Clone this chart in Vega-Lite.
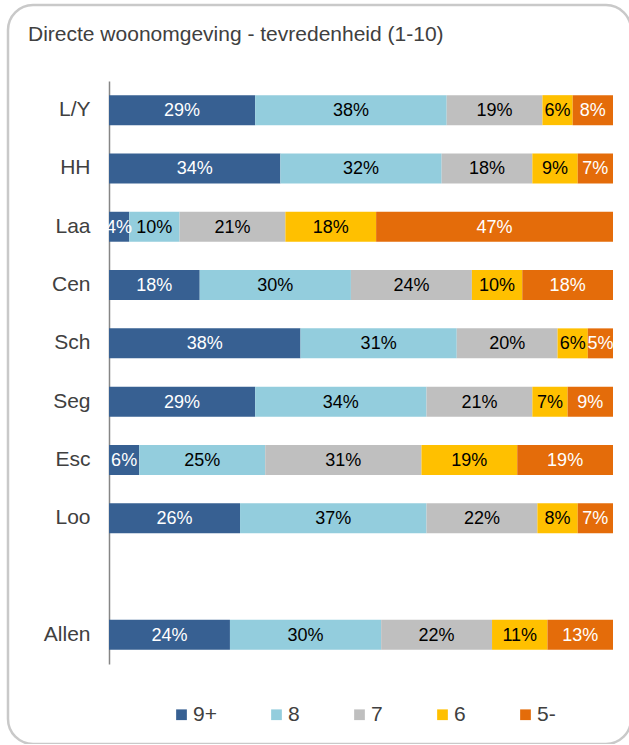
{
  "$schema": "https://vega.github.io/schema/vega-lite/v6.json",
  "width": 623,
  "height": 739,
  "autosize": {"type": "none"},
  "padding": {"left": 8, "top": 5, "right": -2, "bottom": 0},
  "background": "white",
  "config": {
    "font": "Liberation Sans",
    "view": {"stroke": "#C9C9C9", "strokeWidth": 2.5, "cornerRadius": 25}
  },
  "title": {
    "text": "Directe woonomgeving - tevredenheid (1-10)",
    "anchor": "start",
    "frame": "group",
    "fontSize": 21,
    "fontWeight": "normal",
    "color": "#404040",
    "baseline": "alphabetic",
    "offset": -57,
    "dx": 20
  },
  "data": {
    "values": [
      {"g": "L/Y", "cat": "9+", "k": 1, "v": 0.29},
      {"g": "L/Y", "cat": "8", "k": 2, "v": 0.38},
      {"g": "L/Y", "cat": "7", "k": 3, "v": 0.19},
      {"g": "L/Y", "cat": "6", "k": 4, "v": 0.06},
      {"g": "L/Y", "cat": "5-", "k": 5, "v": 0.08},
      {"g": "HH", "cat": "9+", "k": 1, "v": 0.34},
      {"g": "HH", "cat": "8", "k": 2, "v": 0.32},
      {"g": "HH", "cat": "7", "k": 3, "v": 0.18},
      {"g": "HH", "cat": "6", "k": 4, "v": 0.09},
      {"g": "HH", "cat": "5-", "k": 5, "v": 0.07},
      {"g": "Laa", "cat": "9+", "k": 1, "v": 0.04},
      {"g": "Laa", "cat": "8", "k": 2, "v": 0.10},
      {"g": "Laa", "cat": "7", "k": 3, "v": 0.21},
      {"g": "Laa", "cat": "6", "k": 4, "v": 0.18},
      {"g": "Laa", "cat": "5-", "k": 5, "v": 0.47},
      {"g": "Cen", "cat": "9+", "k": 1, "v": 0.18},
      {"g": "Cen", "cat": "8", "k": 2, "v": 0.30},
      {"g": "Cen", "cat": "7", "k": 3, "v": 0.24},
      {"g": "Cen", "cat": "6", "k": 4, "v": 0.10},
      {"g": "Cen", "cat": "5-", "k": 5, "v": 0.18},
      {"g": "Sch", "cat": "9+", "k": 1, "v": 0.38},
      {"g": "Sch", "cat": "8", "k": 2, "v": 0.31},
      {"g": "Sch", "cat": "7", "k": 3, "v": 0.20},
      {"g": "Sch", "cat": "6", "k": 4, "v": 0.06},
      {"g": "Sch", "cat": "5-", "k": 5, "v": 0.05},
      {"g": "Seg", "cat": "9+", "k": 1, "v": 0.29},
      {"g": "Seg", "cat": "8", "k": 2, "v": 0.34},
      {"g": "Seg", "cat": "7", "k": 3, "v": 0.21},
      {"g": "Seg", "cat": "6", "k": 4, "v": 0.07},
      {"g": "Seg", "cat": "5-", "k": 5, "v": 0.09},
      {"g": "Esc", "cat": "9+", "k": 1, "v": 0.06},
      {"g": "Esc", "cat": "8", "k": 2, "v": 0.25},
      {"g": "Esc", "cat": "7", "k": 3, "v": 0.31},
      {"g": "Esc", "cat": "6", "k": 4, "v": 0.19},
      {"g": "Esc", "cat": "5-", "k": 5, "v": 0.19},
      {"g": "Loo", "cat": "9+", "k": 1, "v": 0.26},
      {"g": "Loo", "cat": "8", "k": 2, "v": 0.37},
      {"g": "Loo", "cat": "7", "k": 3, "v": 0.22},
      {"g": "Loo", "cat": "6", "k": 4, "v": 0.08},
      {"g": "Loo", "cat": "5-", "k": 5, "v": 0.07},
      {"g": "Allen", "cat": "9+", "k": 1, "v": 0.24},
      {"g": "Allen", "cat": "8", "k": 2, "v": 0.30},
      {"g": "Allen", "cat": "7", "k": 3, "v": 0.22},
      {"g": "Allen", "cat": "6", "k": 4, "v": 0.11},
      {"g": "Allen", "cat": "5-", "k": 5, "v": 0.13}
    ]
  },
  "encoding": {
    "y": {
      "field": "g",
      "type": "nominal",
      "scale": {
        "domain": ["L/Y", "HH", "Laa", "Cen", "Sch", "Seg", "Esc", "Loo", "", "Allen"],
        "range": [76, 659],
        "paddingInner": 0.486,
        "paddingOuter": 0.243
      },
      "axis": {
        "title": null,
        "orient": "left",
        "offset": -101,
        "ticks": false,
        "tickSize": 0,
        "labelPadding": 19,
        "labelFontSize": 21,
        "labelColor": "#404040",
        "labelFont": "Liberation Sans",
        "domainColor": "#868686",
        "domainWidth": 1.5,
        "grid": false
      }
    }
  },
  "layer": [
    {
      "mark": {"type": "bar"},
      "encoding": {
        "x": {
          "field": "v",
          "type": "quantitative",
          "stack": "zero",
          "scale": {"domain": [0, 1], "range": [101, 605]},
          "axis": null
        },
        "order": {"field": "k", "type": "quantitative"},
        "color": {
          "field": "cat",
          "type": "nominal",
          "scale": {
            "domain": ["9+", "8", "7", "6", "5-"],
            "range": ["#376092", "#93CDDD", "#BFBFBF", "#FFC000", "#E46C0A"]
          },
          "legend": {
            "title": null,
            "orient": "none",
            "direction": "horizontal",
            "legendX": 163,
            "legendY": 699,
            "symbolType": "square",
            "symbolSize": 115,
            "symbolStrokeWidth": 0,
            "labelFontSize": 21,
            "labelColor": "#404040",
            "labelOffset": 1,
            "columnPadding": 49,
            "padding": 0
          }
        }
      }
    },
    {
      "mark": {"type": "text", "fontSize": 18, "baseline": "middle", "align": "center", "dy": 1},
      "encoding": {
        "x": {
          "field": "v",
          "type": "quantitative",
          "stack": "zero",
          "bandPosition": 0.5
        },
        "detail": {"field": "cat", "type": "nominal"},
        "order": {"field": "k", "type": "quantitative"},
        "text": {"field": "v", "type": "quantitative", "format": ".0%"},
        "color": {
          "condition": {"test": "datum.cat === '9+' || datum.cat === '5-'", "value": "#FFFFFF"},
          "value": "#000000"
        }
      }
    }
  ]
}
